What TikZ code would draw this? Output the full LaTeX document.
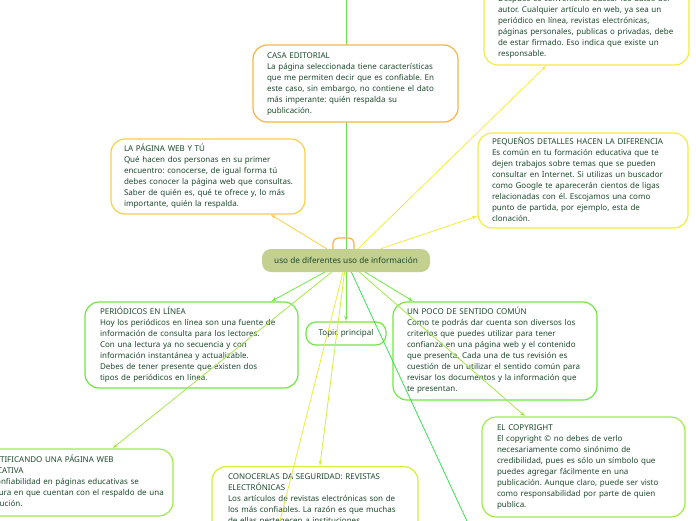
\documentclass[tikz,border=0pt]{standalone}
\usepackage{fontspec}
\setmainfont{Noto Sans}
\usepackage{xcolor}
\usetikzlibrary{shapes,arrows,positioning,backgrounds}
\frenchspacing

\definecolor{ink}{HTML}{1E4A2E}
\definecolor{centralfill}{HTML}{C3D08F}
\definecolor{orangeb}{HTML}{F6B445}
\definecolor{goldb}{HTML}{F7CF4A}
\definecolor{yellowb}{HTML}{F3EC3C}
\definecolor{greenb}{HTML}{72E645}
\definecolor{limeb}{HTML}{A2E84A}
\definecolor{chartb}{HTML}{D0F03A}
\definecolor{deepgreen}{HTML}{3EDD5A}

% lines of a box, broken by hand and never rewrapped
\newcommand{\lineas}[1]{\begin{tabular}{@{}l@{}}#1\end{tabular}}

\begin{document}
\begin{tikzpicture}[
    x=1pt, y=-1pt,
    box/.style={
        rectangle,
        draw,
        fill=white,
        line width=1.2pt,
        rounded corners=14pt,
        align=left,
        text=ink,
        font=\fontsize{8}{11}\selectfont,
        inner xsep=14pt
    },
    central/.style={
        rectangle,
        fill=centralfill,
        rounded corners=9pt,
        text=ink,
        font=\fontsize{8.2}{11}\selectfont,
        minimum width=168pt,
        minimum height=23pt
    },
    line/.style={
        draw,
        -latex',
        line width=0.8pt
    }
]
\useasboundingbox (0,0) rectangle (696,520);

% Nodes
\node [central] (uso) at (346,260.5) {uso de diferentes uso de información};

\node [box, draw=yellowb, text width=177pt, minimum height=77pt] (autor) at (586.5,26.5)
    {\lineas{Después es conveniente buscar los datos del\\
     autor. Cualquier artículo en web, ya sea un\\
     periódico en línea, revistas electrónicas,\\
     páginas personales, publicas o privadas, debe\\
     de estar firmado. Eso indica que existe un\\
     responsable.}};
\node [box, draw=orangeb, text width=177pt, minimum height=77pt] (casa) at (355.5,83.5)
    {\lineas{CASA EDITORIAL\\
     La página seleccionada tiene características\\
     que me permiten decir que es confiable. En\\
     este caso, sin embargo, no contiene el dato\\
     más imperante: quién respalda su\\
     publicación.}};
\node [box, draw=goldb, text width=168pt, inner xsep=13pt, minimum height=75pt] (webytu) at (208,176.5)
    {\lineas{LA PÁGINA WEB Y TÚ\\
     Qué hacen dos personas en su primer\\
     encuentro: conocerse, de igual forma tú\\
     debes conocer la página web que consultas.\\
     Saber de quién es, qué te ofrece y, lo más\\
     importante, quién la respalda.}};
\node [box, draw=yellowb, text width=182pt, minimum height=95pt] (detalles) at (583,180.5)
    {\lineas{PEQUEÑOS DETALLES HACEN LA DIFERENCIA\\
     Es común en tu formación educativa que te\\
     dejen trabajos sobre temas que se pueden\\
     consultar en Internet. Si utilizas un buscador\\
     como Google te aparecerán cientos de ligas\\
     relacionadas con él. Escojamos una como\\
     punto de partida, por ejemplo, esta de\\
     clonación.}};
\node [box, draw=greenb, text width=183pt, inner xsep=15pt, minimum height=86pt] (periodicos) at (191.5,345)
    {\lineas{PERIÓDICOS EN LÍNEA\\
     Hoy los periódicos en línea son una fuente de\\
     información de consulta para los lectores.\\
     Con una lectura ya no secuencia y con\\
     información instantánea y actualizable.\\
     Debes de tener presente que existen dos\\
     tipos de periódicos en línea.}};
\node [box, draw=greenb, rounded corners=10pt, align=center, text width=56pt, inner xsep=12pt, minimum height=23pt] (topic) at (346,333.5)
    {Topic principal};
\node [box, draw=greenb, text width=176pt, minimum height=98pt] (sentido) at (495,351)
    {\lineas{UN POCO DE SENTIDO COMÚN\\
     Como te podrás dar cuenta son diversos los\\
     criterios que puedes utilizar para tener\\
     confianza en una página web y el contenido\\
     que presenta. Cada una de tus revisión es\\
     cuestión de un utilizar el sentido común para\\
     revisar los documentos y la información que\\
     te presentan.}};
\node [box, draw=limeb, text width=173pt, inner xsep=15pt, minimum height=100pt] (copyright) at (583.5,467)
    {\lineas{EL COPYRIGHT\\
     El copyright © no debes de verlo\\
     necesariamente como sinónimo de\\
     credibilidad, pues es sólo un símbolo que\\
     puedes agregar fácilmente en una\\
     publicación. Aunque claro, puede ser visto\\
     como responsabilidad por parte de quien\\
     publica.}};
\node [box, draw=limeb, text width=178pt, minimum height=67pt] (educativa) at (70,482.5)
    {\lineas{IDENTIFICANDO UNA PÁGINA WEB\\
     EDUCATIVA\\
     La confiabilidad en páginas educativas se\\
     asegura en que cuentan con el respaldo de una\\
     institución.}};
\node [box, draw=chartb, text width=174pt, inner xsep=16pt, inner ysep=5pt, anchor=north] (conocerlas) at (315,466)
    {\lineas{CONOCERLAS DA SEGURIDAD: REVISTAS\\
     ELECTRÓNICAS\\
     Los artículos de revistas electrónicas son de\\
     los más confiables. La razón es que muchas\\
     de ellas pertenecen a instituciones\\
     académicas y de investigación.}};

\coordinate (arriba) at (346,-40);
\coordinate (abajoizq) at (270,560);
\coordinate (abajoder) at (485,560);

% Edges
\path [line, draw=goldb] (uso) -- (webytu);
\path [line, draw=yellowb] (uso) -- (autor);
\path [line, draw=yellowb] (uso) -- (detalles);
\path [line, draw=greenb] (uso) -- (periodicos);
\path [line, draw=limeb] (uso) -- (educativa);
\path [line, draw=yellowb!70!chartb] (uso) -- (abajoizq);
\path [line, draw=chartb] (uso) -- (conocerlas);
\path [line, draw=greenb] (uso) -- (topic);
\path [line, draw=deepgreen] (uso) -- (abajoder);
\path [line, draw=limeb] (uso) -- (copyright);
\path [line, draw=greenb] (uso) -- (sentido);

\begin{scope}[on background layer]
\path [line, draw=greenb!80!deepgreen] (uso) -- (arriba);
\draw [orangeb, line width=1.2pt, rounded corners=5pt] (333,252) -- (333,238) -- (354,238) -- (354,252);
\end{scope}

\end{tikzpicture}
\end{document}
